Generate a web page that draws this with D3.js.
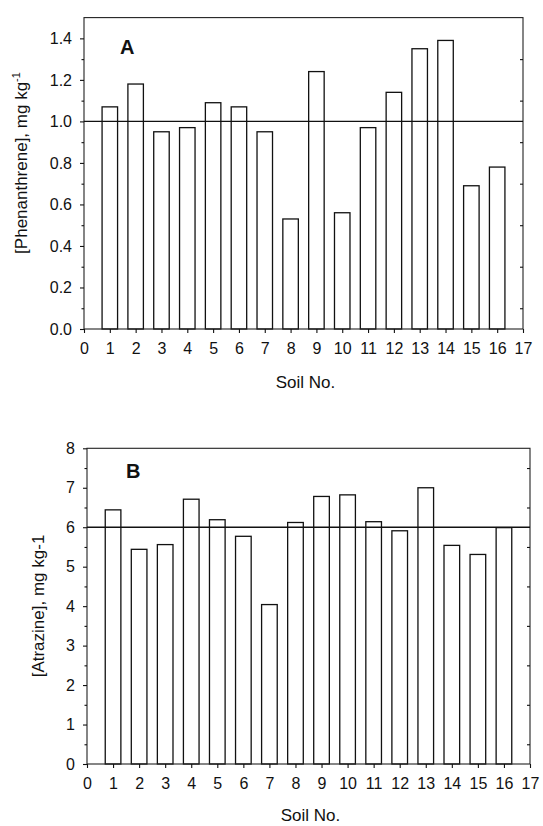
<!DOCTYPE html>
<html><head><meta charset="utf-8">
<script src="https://cdn.jsdelivr.net/npm/d3@7"></script>
<style>
html,body{margin:0;padding:0;background:#fff;}
text{font-family:"Liberation Sans",Arial,Helvetica,sans-serif;fill:#111;}
</style></head>
<body>
<script>
// ---- data ----
const soils = [1,2,3,4,5,6,7,8,9,10,11,12,13,14,15,16];
const phenanthrene = [1.07,1.18,0.95,0.97,1.09,1.07,0.95,0.53,1.24,0.56,0.97,1.14,1.35,1.39,0.69,0.78];
const atrazine = [6.44,5.44,5.56,6.71,6.19,5.77,4.04,6.12,6.78,6.82,6.14,5.91,7.00,5.54,5.31,5.99];
const xTicks = d3.range(0,18);
const phenTicks = [0.0,0.2,0.4,0.6,0.8,1.0,1.2,1.4];
const phenMinor = [0.1,0.3,0.5,0.7,0.9,1.1,1.3];
const atrTicks = [0,1,2,3,4,5,6,7,8];
const atrMinor = [0.5,1.5,2.5,3.5,4.5,5.5,6.5,7.5];
const phenRef = 1.0, atrRef = 6.0;

const W=543,H=826;
const svg = d3.select("body").append("svg").attr("width",W).attr("height",H);

function panel(o){
  const g = svg.append("g");
  const x = d3.scaleLinear().domain([0,17]).range([o.x0,o.x1]);
  const y = d3.scaleLinear().domain(o.ydom).range([o.y0,o.y1]);
  // bars
  g.selectAll("rect.bar").data(o.vals).enter().append("rect")
    .attr("x",(d,i)=>x(soils[i]-0.3)).attr("width",x(0.6)-x(0))
    .attr("y",d=>y(d)).attr("height",d=>y(0)-y(d))
    .attr("fill","#fff").attr("stroke","#111").attr("stroke-width",1.3);
  // frame
  g.append("rect").attr("x",x(0)).attr("y",y(o.ydom[1])).attr("width",x(17)-x(0)).attr("height",y(0)-y(o.ydom[1]))
    .attr("fill","none").attr("stroke","#222").attr("stroke-width",1.1);
  // reference line
  g.append("line").attr("x1",x(0)).attr("x2",x(17)).attr("y1",y(o.ref)).attr("y2",y(o.ref))
    .attr("stroke","#111").attr("stroke-width",1.3);
  // axes
  const ax = g.append("g").attr("transform",`translate(0,${y(0)})`)
    .call(d3.axisBottom(x).tickValues(xTicks).tickFormat(d3.format("d")).tickSize(4).tickPadding(10));
  const ay = g.append("g").attr("transform",`translate(${x(0)},0)`)
    .call(d3.axisLeft(y).tickValues(o.ticks).tickFormat(o.fmt).tickSize(4).tickPadding(8));
  const aym = g.append("g").attr("transform",`translate(${x(0)},0)`)
    .call(d3.axisLeft(y).tickValues(o.minor).tickFormat("").tickSize(2.5));
  const ayr = g.append("g").attr("transform",`translate(${x(17)},0)`)
    .call(d3.axisLeft(y).tickValues(o.minor).tickFormat("").tickSize(3));
  [ax,ay,aym,ayr].forEach(a=>{
    a.select(".domain").remove();
    a.selectAll("line").attr("stroke","#111").attr("stroke-width",1.1);
    a.selectAll("text").style("font-size","16px").attr("fill","#111");
  });
  // panel letter
  g.append("text").attr("x",o.lx).attr("y",o.ly).text(o.letter)
    .style("font-size","20px").style("font-weight","bold");
  // x title
  g.append("text").attr("x",(x(0)+x(17))/2+2).attr("y",y(0)+o.xtOff).attr("text-anchor","middle")
    .style("font-size","17px").text("Soil No.");
  // y title
  const t = g.append("text").attr("transform",`translate(${o.ytx},${o.yty}) rotate(-90)`)
    .attr("text-anchor","middle").style("font-size","17px");
  t.append("tspan").text(o.ytitle);
  if(o.sup){ t.append("tspan").attr("dy",-7).style("font-size","11px").text(o.sup); }
}

panel({x0:84,x1:523,y0:329,y1:17.6,ydom:[0,1.5],vals:phenanthrene,ref:phenRef,
  ticks:phenTicks,minor:phenMinor,fmt:d3.format(".1f"),
  letter:"A",lx:120,ly:54,xtOff:59,ytitle:"[Phenanthrene], mg kg",sup:"-1",ytx:27,yty:163});
panel({x0:87,x1:530,y0:764,y1:448.3,ydom:[0,8],vals:atrazine,ref:atrRef,
  ticks:atrTicks,minor:atrMinor,fmt:d3.format("d"),
  letter:"B",lx:126,ly:478,xtOff:57,ytitle:"[Atrazine], mg kg-1",sup:null,ytx:44,yty:606});
</script>
</body></html>
